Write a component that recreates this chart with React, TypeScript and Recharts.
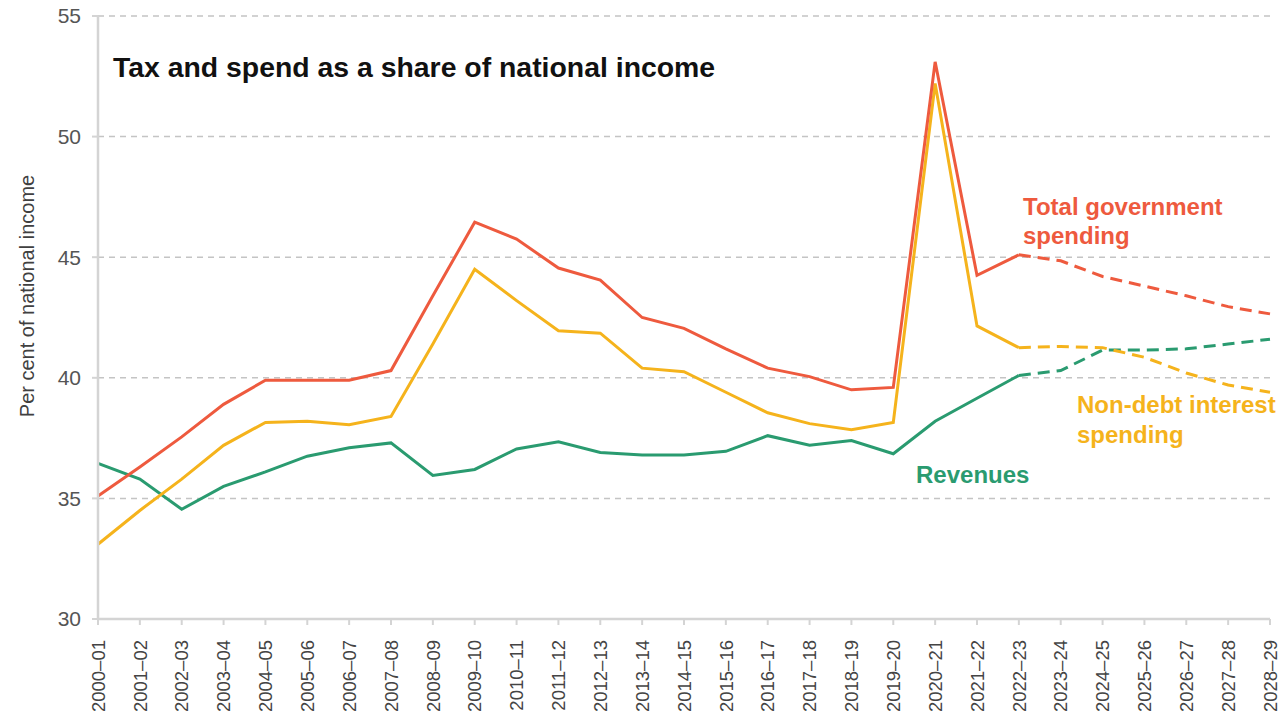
import React from "react";
import { CartesianGrid, Line, LineChart, XAxis, YAxis } from "recharts";

const years = [
  "2000–01", "2001–02", "2002–03", "2003–04", "2004–05", "2005–06", "2006–07",
  "2007–08", "2008–09", "2009–10", "2010–11", "2011–12", "2012–13", "2013–14",
  "2014–15", "2015–16", "2016–17", "2017–18", "2018–19", "2019–20", "2020–21",
  "2021–22", "2022–23", "2023–24", "2024–25", "2025–26", "2026–27", "2027–28",
  "2028–29",
];

// Outturn up to 2022–23, forecast (dashed) from there on
const forecastFrom = "2022–23";

const totalSpending = [
  35.1, 36.3, 37.55, 38.9, 39.9, 39.9, 39.9, 40.3, 43.4, 46.45, 45.75, 44.55,
  44.05, 42.5, 42.05, 41.2, 40.4, 40.05, 39.5, 39.6, 53.1, 44.25, 45.1, 44.85,
  44.2, 43.8, 43.4, 42.95, 42.65,
];

const nonDebtSpending = [
  33.1, 34.5, 35.8, 37.2, 38.15, 38.2, 38.05, 38.4, 41.4, 44.5, 43.2, 41.95,
  41.85, 40.4, 40.25, 39.4, 38.55, 38.1, 37.85, 38.15, 52.2, 42.15, 41.25,
  41.3, 41.25, 40.85, 40.2, 39.7, 39.4,
];

const revenues = [
  36.45, 35.8, 34.55, 35.5, 36.1, 36.75, 37.1, 37.3, 35.95, 36.2, 37.05,
  37.35, 36.9, 36.8, 36.8, 36.95, 37.6, 37.2, 37.4, 36.85, 38.2, 39.15, 40.1,
  40.3, 41.15, 41.15, 41.2, 41.4, 41.6,
];

const yTicks = [30, 35, 40, 45, 50, 55];

const RED = "#EE5A3E";
const YELLOW = "#F5B31C";
const GREEN = "#2A9B70";
const TICK = "#555555";
const FONT = "'Liberation Sans', Arial, sans-serif";

const cut = years.indexOf(forecastFrom);
const data = years.map((year, i) => ({
  year,
  spend: i <= cut ? totalSpending[i] : null,
  spendF: i >= cut ? totalSpending[i] : null,
  nonDebt: i <= cut ? nonDebtSpending[i] : null,
  nonDebtF: i >= cut ? nonDebtSpending[i] : null,
  rev: i <= cut ? revenues[i] : null,
  revF: i >= cut ? revenues[i] : null,
}));

const YearTick = (props: any) => {
  const { x, y, payload } = props;
  return (
    <g transform={`translate(${x},${y})`}>
      <text
        transform="rotate(-90)"
        x={-13}
        y={0}
        dy="0.36em"
        textAnchor="end"
        fill="#444"
        fontSize={18.5}
        fontFamily={FONT}
      >
        {payload.value}
      </text>
    </g>
  );
};

export default function App() {
  return (
    <div
      style={{
        position: "absolute",
        left: 0,
        top: 0,
        width: 1281,
        height: 713,
        background: "#fff",
      }}
    >
      <LineChart
        width={1281}
        height={713}
        data={data}
        margin={{ top: 16, right: 11, bottom: 0, left: 0 }}
      >
        <CartesianGrid
          vertical={false}
          stroke="#C4C4C4"
          strokeWidth={1.5}
          strokeDasharray="6 5"
        />
        <XAxis
          dataKey="year"
          interval={0}
          height={94}
          tick={<YearTick />}
          tickSize={6}
          axisLine={{ stroke: "#D4D4D4", strokeWidth: 2.5 }}
          tickLine={{ stroke: "#D4D4D4", strokeWidth: 2 }}
        />
        <YAxis
          type="number"
          domain={[30, 55]}
          ticks={yTicks}
          width={98}
          tickSize={6}
          tickMargin={11}
          axisLine={{ stroke: "#D4D4D4", strokeWidth: 2.5 }}
          tickLine={{ stroke: "#D4D4D4", strokeWidth: 2 }}
          tick={{ fill: TICK, fontSize: 21, fontFamily: FONT }}
        />
        <Line dataKey="rev" stroke={GREEN} strokeWidth={3} dot={false} isAnimationActive={false} />
        <Line dataKey="revF" stroke={GREEN} strokeWidth={3} strokeDasharray="12 7" dot={false} isAnimationActive={false} />
        <Line dataKey="nonDebt" stroke={YELLOW} strokeWidth={3} dot={false} isAnimationActive={false} />
        <Line dataKey="nonDebtF" stroke={YELLOW} strokeWidth={3} strokeDasharray="12 7" dot={false} isAnimationActive={false} />
        <Line dataKey="spend" stroke={RED} strokeWidth={3} dot={false} isAnimationActive={false} />
        <Line dataKey="spendF" stroke={RED} strokeWidth={3} strokeDasharray="12 7" dot={false} isAnimationActive={false} />
      </LineChart>
      <svg
        width={1281}
        height={713}
        style={{ position: "absolute", left: 0, top: 0, pointerEvents: "none" }}
        fontFamily={FONT}
      >
        <text x={113} y={77} fontSize={28.4} fontWeight="bold" fill="#111">
          Tax and spend as a share of national income
        </text>
        <text
          transform="translate(34,296) rotate(-90)"
          textAnchor="middle"
          fontSize={20}
          fill="#404040"
        >
          Per cent of national income
        </text>
        <text x={1023} y={215} fontSize={24} fontWeight="bold" fill={RED}>
          <tspan x={1023}>Total government</tspan>
          <tspan x={1023} dy={29}>spending</tspan>
        </text>
        <text x={1077} y={413} fontSize={24} fontWeight="bold" fill={YELLOW}>
          <tspan x={1077}>Non-debt interest</tspan>
          <tspan x={1077} dy={30}>spending</tspan>
        </text>
        <text x={916} y={483} fontSize={24} fontWeight="bold" fill={GREEN}>
          Revenues
        </text>
      </svg>
    </div>
  );
}
